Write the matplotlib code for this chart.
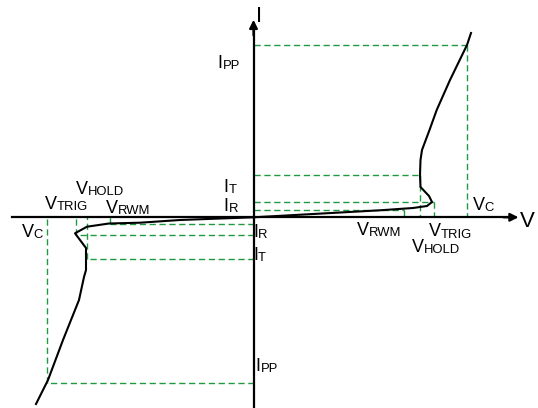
import matplotlib
matplotlib.use('Agg')
import matplotlib.pyplot as plt

plt.rcParams['font.family'] = ['Liberation Sans', 'DejaVu Sans']

# characteristic points (origin = axis crossing), arbitrary schematic units
# positive side
v_c_pos, v_trig_pos, v_hold_pos, v_rwm_pos = 213.0, 180.5, 166.0, 150.5
i_pp_pos, i_t_pos, i_r_pos, i_rwm_pos = 172.3, 42.3, 15.3, 7.3
# negative side
v_c_neg, v_trig_neg, v_hold_neg, v_rwm_neg = -206.8, -177.5, -166.2, -144.0
i_pp_neg, i_t_neg, i_r_neg, i_rwm_neg = -165.7, -41.7, -18.0, -6.7

# I-V curve, positive branch
curve_pos_v = [0, 126.5, 159.5, 173.5, 178.5, 175.5, 167.0, 166.5, 167.0, 168.5, 176.0, 183.2, 196.5, 213.5, 217.5]
curve_pos_i = [0, 7.0, 9.3, 11.3, 15.3, 21.3, 30.3, 42.3, 57.3, 67.3, 87.3, 107.3, 137.3, 172.3, 184.3]
# I-V curve, negative branch
curve_neg_v = [0, -73.5, -113.5, -144.5, -166.5, -178.5, -167.5, -167.5, -169.5, -174.5, -190.5, -205.5, -217.5]
curve_neg_i = [0, -2.7, -5.4, -6.2, -9.4, -16.0, -30.7, -52.7, -59.7, -82.7, -122.7, -162.7, -186.7]

green = '#1f9a42'
dash = (0, (4.5, 2.6))

fig = plt.figure(figsize=(5.38, 4.08), dpi=100)
ax = fig.add_axes([0, 0, 1, 1])
ax.set_xlim(-253.5, 284.5)
ax.set_ylim(-190.7, 217.3)
ax.axis('off')

# dashed guide lines (horizontal to the I axis, vertical to the V axis)
guides = [
    (v_c_pos, i_pp_pos), (v_hold_pos, i_t_pos), (v_trig_pos, i_r_pos), (v_rwm_pos, i_rwm_pos),
    (v_c_neg, i_pp_neg), (v_hold_neg, i_t_neg), (v_trig_neg, i_r_neg), (v_rwm_neg, i_rwm_neg),
]
for gv, gi in guides:
    ax.plot([0, gv], [gi, gi], color=green, lw=1, linestyle=dash, zorder=1)
    ax.plot([gv, gv], [gi, 0], color=green, lw=1, linestyle=dash, zorder=1)

# axes with arrows
ax.plot([-241.5, 258], [0, 0], color='black', lw=1.6, zorder=2)
ax.plot([0, 0], [-195, 190], color='black', lw=1.6, zorder=2)
ax.annotate('', xy=(265, 0), xytext=(250, 0),
            arrowprops=dict(arrowstyle='-|>', color='black', lw=1.6,
                            mutation_scale=12, shrinkA=0, shrinkB=0))
ax.annotate('', xy=(0, 197.5), xytext=(0, 182),
            arrowprops=dict(arrowstyle='-|>', color='black', lw=1.6,
                            mutation_scale=12, shrinkA=0, shrinkB=0))

ax.plot(curve_pos_v, curve_pos_i, color='black', lw=1.5, zorder=3)
ax.plot(curve_neg_v, curve_neg_i, color='black', lw=1.5, zorder=3)


def label(x, y, main, sub, size=13):
    t = ax.text(x, y, main, fontsize=size, va='baseline', ha='left', zorder=4)
    ax.annotate(sub, xy=(1, 0), xycoords=t, fontsize=size * 0.72,
                va='bottom', ha='left')


ax.text(3.0, 195.6, 'I', fontsize=16, va='baseline', ha='left')
ax.text(266.5, -9.4, 'V', fontsize=16, va='baseline', ha='left')

label(-36.0, 149.3, 'I', 'PP')
label(-30.0, 25.3, 'I', 'T')
label(-30.0, 6.3, 'I', 'R')
label(219.0, 7.3, 'V', 'C')
label(103.5, -17.7, 'V', 'RWM')
label(175.5, -19.2, 'V', 'TRIG')
label(158.5, -34.7, 'V', 'HOLD')
label(-231.8, -19.7, 'V', 'C')
label(-208.5, 8.3, 'V', 'TRIG')
label(-177.5, 23.3, 'V', 'HOLD')
label(-147.5, 4.3, 'V', 'RWM')
label(-0.3, -19.7, 'I', 'R')
label(-0.3, -42.7, 'I', 'T')
label(2.3, -153.7, 'I', 'PP')

fig.savefig('out.png', dpi=100)
